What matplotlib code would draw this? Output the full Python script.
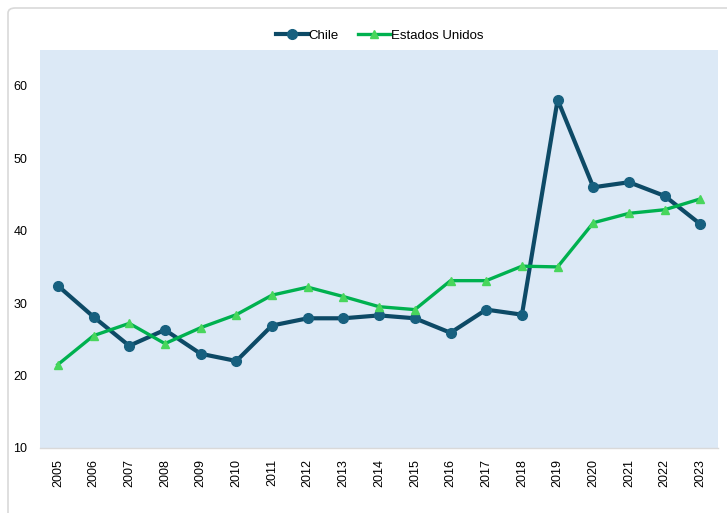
import matplotlib
matplotlib.use("Agg")
import matplotlib.pyplot as plt
from matplotlib.patches import FancyBboxPatch

# --- datos ---
anios = ["2005", "2006", "2007", "2008", "2009", "2010", "2011", "2012", "2013", "2014",
         "2015", "2016", "2017", "2018", "2019", "2020", "2021", "2022", "2023"]
chile = [32.4, 28.1, 24.1, 26.3, 23.0, 22.0, 26.9, 27.9, 27.9, 28.3,
         27.9, 25.9, 29.1, 28.4, 58.1, 46.0, 46.7, 44.8, 40.9]
eeuu = [21.5, 25.5, 27.2, 24.4, 26.6, 28.4, 31.1, 32.2, 30.9, 29.5,
        29.1, 33.1, 33.1, 35.1, 35.0, 41.1, 42.4, 42.9, 44.4]
yticks = [10, 20, 30, 40, 50, 60]

plt.rcParams['font.family'] = ['Liberation Sans', 'DejaVu Sans']

fig = plt.figure(figsize=(7.27, 5.13), dpi=100)
ax = fig.add_axes([0.055, 0.127, 0.933, 0.776])
ax.set_facecolor('#dce9f6')

# borde de la figura
borde = FancyBboxPatch((8 / 727, -0.05), 1.1, 1.05 - 8 / 513,
                       boxstyle="round,pad=0,rounding_size=0.01",
                       transform=fig.transFigure, facecolor='none',
                       edgecolor='#d9d9d9', linewidth=1.2)
fig.patches.append(borde)

x = list(range(len(anios)))
ax.plot(x, chile, color='#0d4a66', linewidth=3, marker='o', markersize=7,
        markerfacecolor='#17607f', markeredgecolor='#17607f', label='Chile', zorder=3)
ax.plot(x, eeuu, color='#00b14f', linewidth=2.4, marker='^', markersize=5.5,
        markerfacecolor='#48d65c', markeredgecolor='#48d65c', label='Estados Unidos', zorder=3)

ax.set_xlim(-0.5, len(anios) - 0.5)
ax.set_ylim(10, 65)
ax.set_xticks(x)
ax.set_xticklabels(anios, rotation=90, fontsize=9)
ax.set_yticks(yticks)
ax.set_yticklabels([str(v) for v in yticks], fontsize=9)
ax.tick_params(axis='both', length=0, colors='#000000')
ax.tick_params(axis='y', pad=9)
ax.tick_params(axis='x', pad=8)

for lado in ['top', 'left', 'right']:
    ax.spines[lado].set_visible(False)
ax.spines['bottom'].set_color('#d9d9d9')
ax.spines['bottom'].set_linewidth(1)

fig.legend(loc='center', bbox_to_anchor=(0.522, 1 - 36 / 513), ncol=2, frameon=False,
           fontsize=9.5, handlelength=2.4, columnspacing=1.5, handletextpad=0.05)

fig.savefig('out.png', dpi=100)
